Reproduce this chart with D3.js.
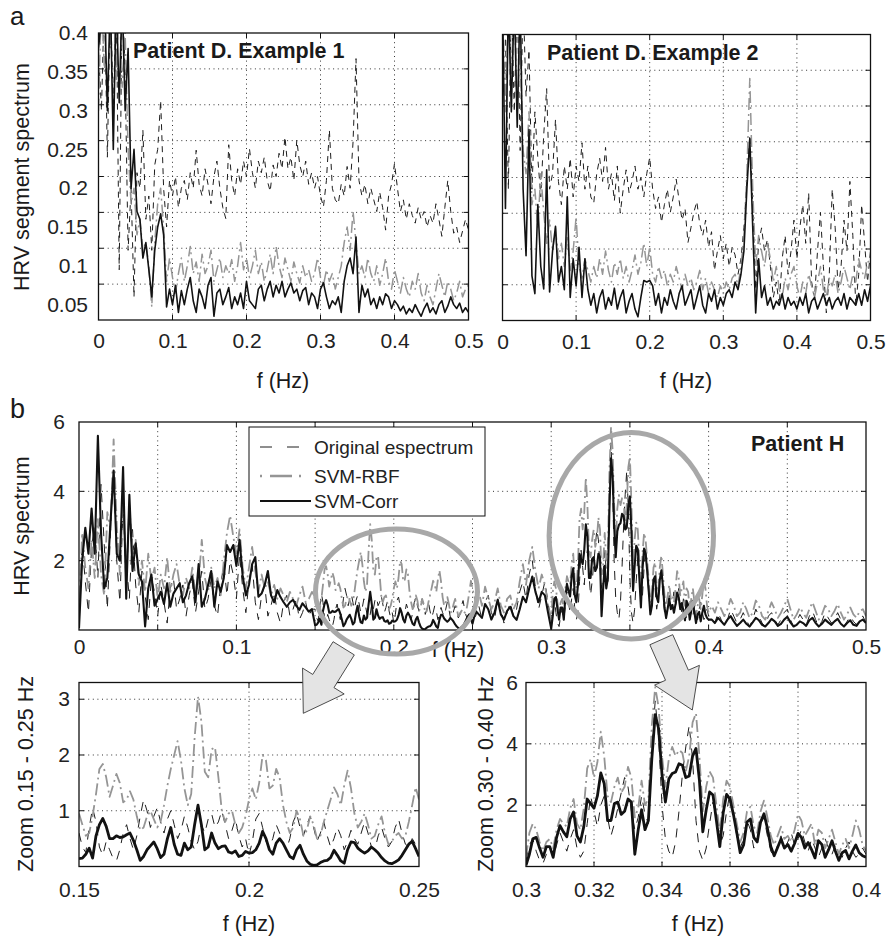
<!DOCTYPE html>
<html lang="en">
<head>
<meta charset="UTF-8">
<title>HRV spectrum</title>
<script src="https://cdnjs.cloudflare.com/ajax/libs/d3/7.8.5/d3.min.js"></script>
<style>
    body { margin: 0; background: #fff; }
</style>
</head>
<body>
<script type="text/javascript">
    var FONT = '"Liberation Sans", Arial, Helvetica, sans-serif';

    // ---- panel a : frequency grid 0..0.5 step 0.004 ----
    var aStep = 0.004;
    var a1Corr = [0.38,0.42,0.45,0.3,0.45,0.25,0.45,0.31,0.45,0.3, 0.38,0.2,0.25,0.17,0.16,0.11,0.13,0.095,0.06,0.12,
        0.15,0.167,0.14,0.047,0.07,0.05,0.075,0.04,0.068,0.05, 0.07,0.085,0.055,0.04,0.07,0.06,0.045,0.075,0.085,0.035,
        0.065,0.07,0.05,0.06,0.072,0.045,0.06,0.05,0.065,0.045, 0.08,0.055,0.05,0.045,0.07,0.075,0.055,0.07,0.08,0.06,
        0.075,0.065,0.08,0.06,0.07,0.078,0.065,0.07,0.055,0.068, 0.072,0.05,0.065,0.06,0.045,0.07,0.078,0.06,0.045,0.055,
        0.05,0.06,0.04,0.08,0.1,0.11,0.09,0.137,0.04,0.075, 0.06,0.07,0.05,0.058,0.045,0.06,0.05,0.064,0.06,0.045,
        0.055,0.05,0.042,0.048,0.038,0.045,0.04,0.05,0.042,0.035, 0.045,0.052,0.04,0.046,0.038,0.05,0.055,0.04,0.048,0.06,
        0.05,0.045,0.052,0.04,0.046,0.04];
    var a1Rbf = [0.3,0.45,0.35,0.45,0.38,0.45,0.34,0.45,0.33,0.4, 0.25,0.18,0.2,0.14,0.16,0.12,0.13,0.1,0.047,0.13,
        0.18,0.2,0.15,0.08,0.11,0.085,0.065,0.09,0.11,0.08, 0.1,0.125,0.09,0.105,0.08,0.115,0.09,0.1,0.12,0.08,
        0.095,0.11,0.085,0.1,0.09,0.108,0.08,0.1,0.13,0.095, 0.11,0.085,0.1,0.12,0.09,0.105,0.08,0.095,0.115,0.09,
        0.125,0.1,0.085,0.11,0.095,0.08,0.105,0.09,0.078,0.1, 0.085,0.095,0.08,0.09,0.11,0.085,0.075,0.095,0.08,0.09,
        0.07,0.085,0.1,0.13,0.15,0.12,0.17,0.13,0.09,0.1, 0.085,0.11,0.09,0.08,0.1,0.075,0.09,0.11,0.08,0.07,
        0.095,0.08,0.065,0.085,0.07,0.06,0.08,0.07,0.09,0.065, 0.055,0.075,0.06,0.05,0.07,0.09,0.075,0.06,0.08,0.07,
        0.055,0.065,0.08,0.06,0.07,0.075];
    var a1Orig = [0.38,0.3,0.45,0.24,0.45,0.3,0.45,0.095,0.45,0.35, 0.12,0.2,0.06,0.22,0.2,0.275,0.16,0.19,0.12,0.23,
        0.25,0.313,0.2,0.15,0.21,0.19,0.215,0.175,0.2,0.21, 0.185,0.22,0.2,0.249,0.205,0.19,0.225,0.205,0.18,0.215,
        0.235,0.2,0.175,0.161,0.256,0.21,0.19,0.225,0.205,0.235, 0.215,0.251,0.22,0.2,0.235,0.22,0.24,0.21,0.196,0.23,
        0.215,0.245,0.225,0.266,0.225,0.24,0.21,0.262,0.23,0.215, 0.235,0.205,0.22,0.2,0.215,0.19,0.176,0.21,0.275,0.2,
        0.185,0.18,0.205,0.19,0.228,0.2,0.26,0.367,0.21,0.19, 0.205,0.18,0.2,0.185,0.17,0.195,0.175,0.146,0.19,0.205,
        0.232,0.2,0.17,0.185,0.16,0.18,0.165,0.155,0.175,0.16, 0.17,0.15,0.165,0.155,0.18,0.16,0.138,0.175,0.21,0.17,
        0.142,0.15,0.13,0.145,0.16,0.146];
    var a2Corr = [0.45,0.175,0.45,0.3,0.45,0.28,0.45,0.2,0.114,0.277, 0.088,0.065,0.18,0.1,0.071,0.225,0.067,0.12,0.152,0.08,
        0.1,0.07,0.19,0.06,0.11,0.075,0.125,0.06,0.11,0.07, 0.05,0.065,0.04,0.06,0.07,0.045,0.06,0.05,0.072,0.045,
        0.06,0.07,0.04,0.055,0.065,0.045,0.035,0.06,0.082,0.08, 0.082,0.075,0.05,0.065,0.04,0.06,0.05,0.07,0.055,0.045,
        0.065,0.075,0.05,0.06,0.07,0.045,0.06,0.075,0.05,0.04, 0.065,0.055,0.07,0.045,0.06,0.05,0.065,0.07,0.06,0.08,
        0.07,0.09,0.12,0.2,0.265,0.15,0.04,0.11,0.06,0.075, 0.05,0.06,0.045,0.055,0.05,0.065,0.045,0.06,0.05,0.055,
        0.045,0.06,0.05,0.065,0.04,0.055,0.06,0.045,0.055,0.065, 0.05,0.06,0.045,0.055,0.06,0.05,0.065,0.045,0.06,0.055,
        0.05,0.065,0.05,0.07,0.055,0.075];
    var a2Rbf = [0.45,0.3,0.45,0.35,0.45,0.3,0.38,0.25,0.22,0.3, 0.18,0.2,0.15,0.22,0.17,0.13,0.16,0.12,0.15,0.11,
        0.13,0.1,0.14,0.095,0.12,0.164,0.1,0.085,0.11,0.095, 0.08,0.1,0.085,0.11,0.09,0.12,0.095,0.08,0.105,0.09,
        0.11,0.085,0.1,0.08,0.095,0.115,0.09,0.105,0.13,0.1, 0.125,0.09,0.08,0.1,0.085,0.095,0.075,0.09,0.08,0.1,
        0.085,0.07,0.09,0.075,0.085,0.07,0.08,0.095,0.07,0.085, 0.065,0.08,0.07,0.06,0.075,0.065,0.08,0.07,0.085,0.09,
        0.075,0.1,0.14,0.22,0.343,0.2,0.1,0.14,0.12,0.1, 0.13,0.11,0.08,0.1,0.07,0.06,0.085,0.07,0.09,0.1,
        0.075,0.06,0.08,0.065,0.09,0.075,0.06,0.08,0.1,0.07, 0.06,0.085,0.075,0.09,0.065,0.08,0.1,0.085,0.07,0.09,
        0.08,0.11,0.095,0.085,0.105,0.11];
    var a2Orig = [0.45,0.4,0.2,0.45,0.3,0.45,0.25,0.45,0.32,0.38, 0.2,0.3,0.24,0.19,0.27,0.33,0.2,0.22,0.29,0.21,
        0.18,0.23,0.2,0.24,0.19,0.23,0.21,0.26,0.2,0.23, 0.19,0.182,0.22,0.24,0.21,0.254,0.2,0.22,0.185,0.23,
        0.169,0.2,0.225,0.195,0.21,0.23,0.2,0.215,0.19,0.22, 0.241,0.2,0.175,0.19,0.157,0.18,0.2,0.17,0.19,0.213,
        0.185,0.16,0.175,0.131,0.15,0.17,0.184,0.155,0.14,0.16, 0.125,0.145,0.095,0.12,0.14,0.11,0.13,0.1,0.125,0.115,
        0.09,0.11,0.15,0.21,0.27,0.18,0.07,0.13,0.15,0.12, 0.135,0.1,0.06,0.08,0.05,0.11,0.14,0.09,0.12,0.16,
        0.11,0.15,0.18,0.13,0.195,0.08,0.06,0.12,0.17,0.1, 0.04,0.09,0.2,0.15,0.07,0.1,0.16,0.12,0.21,0.14,
        0.05,0.09,0.18,0.13,0.08,0.12];

    // ---- panel b : pieces outside the zoom windows, step 0.002 ----
    var bStep = 0.002;
    var bLowStart = 0, bMidStart = 0.252, bHighStart = 0.402;
    var bCorrLow = [0.05,2.0,2.95,2.2,3.5,2.2,5.6,2.8,1.2,1.5, 3.1,4.6,2.2,2.0,4.7,0.9,3.9,1.7,2.5,1.6,
        1.4,0.1,1.2,1.6,0.7,0.9,1.1,0.75,1.35,0.67, 1.05,1.2,1.35,0.8,1.0,1.35,1.55,0.8,1.9,0.67,
        0.9,1.3,1.7,0.67,1.4,1.1,1.5,2.45,2.25,2.45, 1.85,2.6,1.55,1.0,1.3,1.9,2.1,0.96,1.05,1.3,
        1.7,1.0,0.8,1.15,0.95,0.8,0.67,0.8,0.87,0.7, 0.58,0.77,0.65,0.53,0.6];
    var bCorrMid = [0.55,0.45,0.35,0.75,0.6,0.3,0.5,0.87,0.45,0.3,0.55,0.67,0.4,0.29,0.6,0.96,0.8,1.2,1.54,1.1,0.8,1.1,1.0,0.5];
    var bCorrHigh = [0.3,0.2,0.35,0.25,0.15,0.3,0.4,0.25,0.12,0.2, 0.3,0.18,0.1,0.22,0.35,0.28,0.15,0.1,0.2,0.32,
        0.25,0.12,0.18,0.3,0.38,0.22,0.1,0.15,0.25,0.2, 0.12,0.28,0.35,0.2,0.1,0.18,0.3,0.22,0.15,0.25,
        0.32,0.18,0.1,0.2,0.28,0.15,0.12,0.25,0.3,0.2];
    var bRbfLow = [0.3,2.8,1.8,1.2,2.6,1.5,3.2,1.6,1.0,3.4, 2.9,5.5,3.0,1.6,3.8,1.4,3.6,2.2,2.6,1.3,
        2.0,1.1,2.2,1.4,1.8,0.9,1.6,1.2,2.1,1.1, 1.6,1.9,1.3,1.0,1.5,1.2,1.8,1.0,1.4,2.6,
        1.5,1.1,1.8,1.2,1.5,1.0,2.0,2.8,3.3,2.7, 2.2,2.9,1.8,1.2,1.8,2.4,1.7,1.1,1.6,1.2,
        1.4,1.0,1.3,0.9,1.2,1.0,0.8,1.1,0.9,0.7, 1.0,1.25,0.8,0.9,1.1];
    var bRbfMid = [0.8,1.1,0.7,1.25,0.9,0.6,0.8,1.2,0.7,0.5,0.9,1.0,0.6,0.8,1.4,1.9,1.3,2.0,2.4,1.7,1.2,1.6,1.3,0.7];
    var bRbfHigh = [0.7,0.5,0.8,0.6,0.4,0.6,0.9,0.7,0.4,0.5, 0.8,0.6,0.35,0.5,0.85,0.7,0.4,0.3,0.55,0.8,
        0.6,0.35,0.5,0.7,0.9,0.6,0.3,0.45,0.65,0.5, 0.35,0.6,0.8,0.55,0.3,0.45,0.7,0.6,0.4,0.55,
        0.75,0.5,0.3,0.45,0.65,0.45,0.35,0.55,0.6,0.4];
    var bOrigLow = [0.2,2.5,1.4,0.5,2.4,3.0,1.5,4.2,2.5,0.6, 2.8,4.6,2.0,0.8,3.6,2.0,0.9,2.9,1.3,0.5,
        1.7,1.0,0.3,1.5,1.1,0.4,1.3,0.8,0.2,1.2, 1.5,0.6,0.9,1.3,0.4,1.0,1.4,0.5,1.1,1.7,
        0.6,0.9,1.5,0.7,0.4,1.3,1.9,1.0,2.0,1.6, 0.9,2.2,1.2,0.5,1.4,1.9,0.8,0.3,1.0,1.3,
        0.4,0.7,1.1,0.5,0.2,0.8,1.0,0.4,0.6,0.9, 0.3,0.5,0.8,0.4,0.6];
    var bOrigMid = [0.4,0.7,0.3,0.8,1.0,0.5,0.3,0.9,0.6,0.2,0.5,0.8,0.4,0.6,1.1,1.4,0.9,1.6,2.0,1.2,0.6,1.0,1.4,0.8];
    var bOrigHigh = [0.4,0.2,0.5,0.3,0.1,0.3,0.6,0.4,0.2,0.3, 0.5,0.3,0.1,0.3,0.6,0.4,0.2,0.1,0.4,0.5,
        0.3,0.15,0.3,0.5,0.6,0.3,0.1,0.25,0.45,0.3, 0.15,0.4,0.55,0.3,0.1,0.25,0.5,0.35,0.2,0.3,
        0.5,0.3,0.1,0.25,0.4,0.25,0.15,0.35,0.4,0.2];

    // ---- zoom windows, step 0.001 ----
    var zStep = 0.001;
    var zaStart = 0.15, zbStart = 0.3;
    var zaCorr = [0.14,0.15,0.22,0.33,0.15,0.55,0.75,0.86,0.72,0.5, 0.5,0.55,0.52,0.53,0.57,0.6,0.47,0.3,0.11,0.18,
        0.3,0.37,0.44,0.32,0.16,0.22,0.5,0.7,0.4,0.22, 0.2,0.42,0.3,0.35,0.75,1.1,0.75,0.3,0.35,0.6,
        0.42,0.32,0.36,0.37,0.26,0.24,0.28,0.18,0.2,0.27, 0.24,0.25,0.3,0.42,0.63,0.5,0.3,0.22,0.42,0.5,
        0.42,0.3,0.18,0.14,0.3,0.38,0.22,0.1,0.04,0.02, 0.03,0.07,0.1,0.11,0.16,0.29,0.2,0.1,0.06,0.3,
        0.44,0.43,0.33,0.28,0.24,0.28,0.35,0.3,0.24,0.16, 0.1,0.06,0.05,0.08,0.12,0.2,0.3,0.4,0.45,0.32,
        0.18];
    var zaRbf = [0.95,0.75,0.55,0.6,0.9,1.3,1.75,1.84,1.6,1.25, 1.45,1.66,1.5,1.15,1.2,1.35,1.2,0.9,0.65,0.7,
        0.9,1.0,0.85,0.7,0.8,1.1,1.45,1.75,2.0,2.25, 1.9,1.4,1.1,1.3,2.3,3.05,2.6,1.7,1.6,2.1,
        2.14,1.6,1.0,0.8,0.95,1.0,0.75,0.6,0.7,0.9, 1.2,1.4,1.2,1.5,2.0,1.9,1.4,1.45,1.75,1.6,
        1.1,0.8,0.6,0.7,1.0,0.85,0.55,0.65,0.9,0.75, 0.5,0.55,0.8,1.0,1.2,1.42,1.3,1.1,1.45,1.72,
        1.4,0.95,0.7,0.8,0.95,0.75,0.5,0.55,0.75,0.9, 0.6,0.4,0.45,0.55,0.6,0.5,0.55,0.8,1.1,1.42,
        1.2];
    var zaOrig = [0.6,0.35,0.25,0.7,1.05,0.8,0.35,0.2,0.45,0.3, 0.15,0.1,0.3,0.6,0.75,0.5,0.3,0.55,0.9,1.2,
        1.0,0.7,0.9,1.05,0.8,0.6,0.85,1.0,0.75,0.5, 0.65,0.9,0.7,0.45,0.3,0.45,0.75,0.6,0.85,0.95,
        0.7,0.8,1.0,0.75,0.5,0.65,0.85,0.55,0.35,0.5, 0.2,0.45,0.85,0.95,0.7,0.45,0.35,0.5,0.75,0.6,
        0.4,0.3,0.5,0.8,0.95,0.7,0.55,0.75,0.9,0.7, 0.45,0.6,0.8,0.55,0.35,0.5,0.7,0.55,0.3,0.45,
        0.65,0.5,0.4,0.6,0.8,0.6,0.35,0.3,0.55,0.7, 0.5,0.35,0.45,0.7,0.85,0.6,0.4,0.35,0.5,0.4,
        0.3];
    var zbCorr = [0.04,0.4,0.9,0.95,0.6,0.3,0.65,0.65,0.3,0.95, 1.33,1.13,0.97,1.55,1.78,1.0,0.8,1.3,2.2,2.05,
        1.9,2.3,3.05,2.7,1.5,1.5,2.05,2.1,1.7,1.8, 2.2,2.1,0.4,1.2,1.85,1.2,1.5,3.5,4.95,4.5,
        3.0,2.1,2.85,3.03,3.08,3.35,3.3,2.9,2.95,3.6, 3.85,2.82,1.13,1.84,2.43,2.33,1.5,0.65,1.75,2.35,
        2.2,1.7,1.1,0.45,0.7,1.45,1.55,0.95,0.8,1.45, 1.72,1.25,0.65,0.35,0.62,0.9,0.6,0.72,0.5,0.75,
        1.08,0.95,0.6,0.78,0.55,0.28,0.84,0.72,0.3,0.55, 0.84,0.5,0.2,0.45,0.52,0.25,0.5,0.7,0.45,0.35,
        0.3];
    var zbRbf = [0.3,1.1,1.4,1.2,0.8,0.5,0.8,0.9,0.6,1.2, 1.55,1.4,1.3,1.9,2.2,1.4,1.2,1.9,3.2,3.5,
        2.9,3.4,4.4,3.6,2.3,2.1,2.6,2.9,2.4,2.6, 3.25,2.9,1.6,1.9,2.8,2.0,2.2,4.6,5.85,5.2,
        3.6,2.6,3.5,3.9,3.6,3.8,3.7,3.1,3.6,4.7, 5.0,3.6,1.8,2.6,3.1,2.9,2.0,1.1,2.2,2.8,
        2.6,2.0,1.4,0.8,1.1,1.8,1.95,1.3,1.1,1.8, 2.15,1.6,1.0,0.7,1.0,1.3,0.9,1.0,0.8,1.2,
        1.7,1.5,1.0,1.2,1.4,0.7,1.2,1.1,0.6,0.9, 1.2,0.8,0.4,0.7,0.9,0.6,1.0,1.5,1.2,0.7,
        0.5];
    var zbOrig = [0.2,0.7,0.9,0.5,0.2,0.1,0.4,0.6,0.3,0.7, 1.1,0.8,0.5,0.9,1.2,0.6,0.3,0.5,1.4,2.3,
        1.8,1.3,2.0,2.3,1.6,1.0,1.4,1.9,2.4,2.9, 2.6,1.8,1.2,1.6,2.3,1.7,1.4,3.8,5.4,4.2,
        2.0,0.9,0.5,0.3,0.8,1.8,3.0,3.9,4.6,3.5, 1.5,0.5,0.2,0.6,1.4,2.1,1.6,0.7,1.0,1.8,
        2.4,1.7,1.0,0.6,0.9,1.5,1.2,0.6,0.9,1.4, 1.6,1.0,0.5,0.3,0.7,1.0,0.6,0.8,1.1,0.7,
        0.9,1.2,0.8,0.5,0.9,0.6,0.3,0.6,0.9,0.6, 0.4,0.7,0.5,0.3,0.6,0.8,0.5,0.3,0.4,0.6,
        0.4];

    // tick labels
    var aXTicks = [0, 0.1, 0.2, 0.3, 0.4, 0.5];
    var aYTicks = [0.05, 0.1, 0.15, 0.2, 0.25, 0.3, 0.35, 0.4];
    var bXTicks = [0, 0.1, 0.2, 0.3, 0.4, 0.5];
    var bYTicks = [2, 4, 6];
    var zaXTicks = [0.15, 0.2, 0.25];
    var zaYTicks = [1, 2, 3];
    var zbXTicks = [0.3, 0.32, 0.34, 0.36, 0.38, 0.4];
    var zbYTicks = [2, 4, 6];
    var legendNames = ['Original espectrum', 'SVM-RBF', 'SVM-Corr'];

    function pts(f0, step, vals) {
        return vals.map(function (v, i) { return [f0 + i * step, v]; });
    }
    function fmt(d) { return String(+d.toFixed(3)); }

    var svg = d3.select('body').append('svg')
            .attr('width', 886)
            .attr('height', 940)
            .style('font-family', FONT);
    svg.append('rect').attr('width', 886).attr('height', 940).attr('fill', '#fff');

    var clipCount = 0;
    function drawPanel(o) {
        var x = d3.scaleLinear().domain(o.xDomain).range([o.left, o.right]);
        var y = d3.scaleLinear().domain(o.yDomain).range([o.bottom, o.top]);
        var gy = o.gridScale || y;
        var g = svg.append('g');
        var id = 'clip' + (clipCount++);
        g.append('clipPath').attr('id', id).append('rect')
                .attr('x', o.left).attr('y', o.top)
                .attr('width', o.right - o.left).attr('height', o.bottom - o.top);

        // dotted grid
        var grid = g.append('g').attr('stroke', '#333').attr('stroke-width', 1)
                .attr('stroke-dasharray', '1,3.6');
        grid.selectAll('.gx').data(o.xGrid).enter().append('line')
                .attr('x1', function (d) { return x(d); }).attr('x2', function (d) { return x(d); })
                .attr('y1', o.top).attr('y2', o.bottom);
        grid.selectAll('.gy').data(o.yGrid).enter().append('line')
                .attr('y1', function (d) { return gy(d); }).attr('y2', function (d) { return gy(d); })
                .attr('x1', o.left).attr('x2', o.right);

        // inward ticks on all four sides
        var tk = g.append('g').attr('stroke', '#111').attr('stroke-width', 1);
        o.xGrid.forEach(function (d) {
            tk.append('line').attr('x1', x(d)).attr('x2', x(d)).attr('y1', o.bottom).attr('y2', o.bottom - 5);
            tk.append('line').attr('x1', x(d)).attr('x2', x(d)).attr('y1', o.top).attr('y2', o.top + 5);
        });
        o.yGrid.forEach(function (d) {
            tk.append('line').attr('y1', gy(d)).attr('y2', gy(d)).attr('x1', o.left).attr('x2', o.left + 5);
            tk.append('line').attr('y1', gy(d)).attr('y2', gy(d)).attr('x1', o.right).attr('x2', o.right - 5);
        });

        // series
        var line = d3.line()
                .x(function (d) { return x(d[0]); })
                .y(function (d) { return y(d[1]); });
        var lines = g.append('g').attr('clip-path', 'url(#' + id + ')');
        o.series.forEach(function (s) {
            lines.append('path')
                    .attr('d', line(s.data))
                    .attr('fill', 'none')
                    .attr('stroke', s.color)
                    .attr('stroke-width', s.width)
                    .attr('stroke-linejoin', 'round')
                    .attr('stroke-dasharray', s.dash || null);
        });

        // frame
        g.append('rect').attr('x', o.left).attr('y', o.top)
                .attr('width', o.right - o.left).attr('height', o.bottom - o.top)
                .attr('fill', 'none').attr('stroke', '#111').attr('stroke-width', 1.3);

        // axes labels
        var ax = g.append('g').attr('transform', 'translate(0,' + o.bottom + ')')
                .call(d3.axisBottom(x).tickValues(o.xTicks).tickSize(0).tickPadding(o.xPad).tickFormat(fmt));
        ax.select('.domain').remove();
        ax.attr('font-size', 21).attr('font-family', FONT);
        ax.selectAll('text').attr('fill', '#222');
        if (o.yTicks) {
            var ay = g.append('g').attr('transform', 'translate(' + o.left + ',0)')
                    .call(d3.axisLeft(y).tickValues(o.yTicks).tickSize(0).tickPadding(o.yPad).tickFormat(fmt));
            ay.select('.domain').remove();
            ay.attr('font-size', 21).attr('font-family', FONT);
            ay.selectAll('text').attr('fill', '#222');
        }
        return {x: x, y: y, g: g};
    }

    function styled(data, kind, size) {
        if (kind === 'orig') return {data: data, color: '#1e1e1e', width: 1, dash: size === 'a' ? '6,5' : '9,8'};
        if (kind === 'rbf') return {data: data, color: '#959595', width: size === 'a' ? 1.5 : 1.8, dash: '12,4,2,4'};
        return {data: data, color: '#121212', width: size === 'a' ? 1.6 : (size === 'b' ? 2.1 : 2.8)};
    }

    // ---- panel a ----
    var aGrid = d3.scaleLinear().domain([0, 8]).range([320, 33]);
    drawPanel({
        left: 98.5, right: 468.5, top: 33, bottom: 320,
        xDomain: [0, 0.5], yDomain: [0.0302, 0.4],
        gridScale: aGrid, xGrid: [0.1, 0.2, 0.3, 0.4], yGrid: [1, 2, 3, 4, 5, 6, 7],
        xTicks: aXTicks, xPad: 13.5, yTicks: aYTicks, yPad: 10.5,
        series: [styled(pts(0, aStep, a1Orig), 'orig', 'a'),
            styled(pts(0, aStep, a1Rbf), 'rbf', 'a'),
            styled(pts(0, aStep, a1Corr), 'corr', 'a')]
    });
    var aGrid2 = d3.scaleLinear().domain([0, 8]).range([320.5, 34.5]);
    drawPanel({
        left: 502.5, right: 870.5, top: 34.5, bottom: 320.5,
        xDomain: [0, 0.5], yDomain: [0.0302, 0.4],
        gridScale: aGrid2, xGrid: [0.1, 0.2, 0.3, 0.4], yGrid: [1, 2, 3, 4, 5, 6, 7],
        xTicks: aXTicks, xPad: 13.5,
        series: [styled(pts(0, aStep, a2Orig), 'orig', 'a'),
            styled(pts(0, aStep, a2Rbf), 'rbf', 'a'),
            styled(pts(0, aStep, a2Corr), 'corr', 'a')]
    });

    // ---- panel b : join coarse pieces with the zoom windows ----
    function joinB(low, za, mid, zb, high) {
        return [].concat(pts(bLowStart, bStep, low), pts(zaStart, zStep, za), pts(bMidStart, bStep, mid),
                pts(zbStart, zStep, zb), pts(bHighStart, bStep, high));
    }
    drawPanel({
        left: 79, right: 866, top: 422, bottom: 630,
        xDomain: [0, 0.5], yDomain: [0, 6],
        xGrid: d3.range(1, 10).map(function (i) { return i * 0.05; }), yGrid: [2, 4],
        xTicks: bXTicks, xPad: 9.5, yTicks: bYTicks, yPad: 14,
        series: [styled(joinB(bOrigLow, zaOrig, bOrigMid, zbOrig, bOrigHigh), 'orig', 'b'),
            styled(joinB(bRbfLow, zaRbf, bRbfMid, zbRbf, bRbfHigh), 'rbf', 'b'),
            styled(joinB(bCorrLow, zaCorr, bCorrMid, zbCorr, bCorrHigh), 'corr', 'b')]
    });

    // legend
    var lg = svg.append('g');
    lg.append('rect').attr('x', 249).attr('y', 427).attr('width', 236).attr('height', 89)
            .attr('fill', '#fff').attr('stroke', '#111').attr('stroke-width', 1);
    var legY = [447, 476, 501];
    var legStyles = [styled([], 'orig', 'b'), styled([], 'rbf', 'b'), styled([], 'corr', 'b')];
    legStyles[0].dash = '12,15';
    legStyles[1].dash = '2,8,22,7,2,20';
    legendNames.forEach(function (name, i) {
        lg.append('line').attr('x1', 260).attr('x2', 311).attr('y1', legY[i]).attr('y2', legY[i])
                .attr('stroke', legStyles[i].color).attr('stroke-width', legStyles[i].width + (i === 1 ? 0.6 : 0))
                .attr('stroke-dasharray', legStyles[i].dash || null);
        lg.append('text').attr('x', 314).attr('y', legY[i]).attr('dy', '0.35em')
                .attr('font-size', 19).attr('fill', '#222').text(name);
    });

    // ---- zoom panels ----
    drawPanel({
        left: 79, right: 419, top: 682.5, bottom: 866.5,
        xDomain: [0.15, 0.25], yDomain: [0, 3.3],
        xGrid: [0.2], yGrid: [1, 2, 3],
        xTicks: zaXTicks, xPad: 15.5, yTicks: zaYTicks, yPad: 9,
        series: [styled(pts(zaStart, zStep, zaOrig), 'orig', 'z'),
            styled(pts(zaStart, zStep, zaRbf), 'rbf', 'z'),
            styled(pts(zaStart, zStep, zaCorr), 'corr', 'z')]
    });
    drawPanel({
        left: 526, right: 866, top: 682.5, bottom: 866.5,
        xDomain: [0.3, 0.4], yDomain: [0, 6],
        xGrid: [0.32, 0.34, 0.36, 0.38], yGrid: [2, 4],
        xTicks: zbXTicks, xPad: 15.5, yTicks: zbYTicks, yPad: 8,
        series: [styled(pts(zbStart, zStep, zbOrig), 'orig', 'z'),
            styled(pts(zbStart, zStep, zbRbf), 'rbf', 'z'),
            styled(pts(zbStart, zStep, zbCorr), 'corr', 'z')]
    });

    // ---- titles and axis names ----
    function label(txt, x, y, opts) {
        opts = opts || {};
        var t = svg.append('text').attr('x', x).attr('y', y).text(txt)
                .attr('font-size', opts.size || 21.5)
                .attr('font-weight', opts.bold ? 'bold' : null)
                .attr('fill', '#1a1a1a')
                .attr('text-anchor', opts.anchor || 'middle')
                .attr('dy', opts.dy === undefined ? '0.35em' : opts.dy);
        if (opts.rotate) t.attr('transform', 'rotate(-90,' + x + ',' + y + ')');
        return t;
    }
    label('a', 10, 25, {size: 26, anchor: 'start', dy: 0});
    label('b', 10, 418, {size: 27, anchor: 'start', dy: 0});
    label('Patient D. Example 1', 133, 57.5, {bold: true, anchor: 'start', dy: 0, size: 21.5});
    label('Patient D. Example 2', 547, 59.5, {bold: true, anchor: 'start', dy: 0, size: 21.5});
    label('Patient H', 751, 451, {bold: true, anchor: 'start', dy: 0, size: 21.5});
    label('HRV segment spectrum', 21, 177, {rotate: true});
    label('f (Hz)', 283, 380);
    label('f (Hz)', 686, 380);
    label('HRV spectrum', 21, 526, {rotate: true});
    label('f (Hz)', 458, 649);
    label('Zoom 0.15 - 0.25 Hz', 25, 774, {rotate: true});
    label('Zoom 0.30 - 0.40 Hz', 485, 774, {rotate: true});
    label('f (Hz)', 249, 923);
    label('f (Hz)', 698, 923);

    // ---- highlight ellipses and arrows ----
    var marks = svg.append('g');
    marks.append('ellipse').attr('cx', 396.5).attr('cy', 591.5).attr('rx', 81).attr('ry', 62.5)
            .attr('fill', 'none').attr('stroke', '#a8a8a8').attr('stroke-width', 5);
    marks.append('ellipse').attr('cx', 631.3).attr('cy', 535.8).attr('rx', 82.2).attr('ry', 103.3)
            .attr('fill', 'none').attr('stroke', '#a8a8a8').attr('stroke-width', 5);

    function arrow(sx, sy, tx, ty, shaft, head, headLen) {
        var len = Math.hypot(tx - sx, ty - sy);
        var dx = (tx - sx) / len, dy = (ty - sy) / len;
        var nx = -dy, ny = dx;
        var bx = sx + dx * (len - headLen), by = sy + dy * (len - headLen);
        var p = [[sx + nx * shaft, sy + ny * shaft], [bx + nx * shaft, by + ny * shaft], [bx + nx * head, by + ny * head],
            [tx, ty], [bx - nx * head, by - ny * head], [bx - nx * shaft, by - ny * shaft], [sx - nx * shaft, sy - ny * shaft]];
        marks.append('polygon').attr('points', p.map(function (q) { return q.join(','); }).join(' '))
                .attr('fill', '#e4e4e4').attr('stroke', '#3a3a3a').attr('stroke-width', 0.9);
    }
    arrow(343.7, 648.3, 303.3, 713.3, 12.5, 24.5, 38);
    arrow(661.3, 639.7, 692.3, 710, 12.5, 24.5, 38);
</script>
</body>
</html>
